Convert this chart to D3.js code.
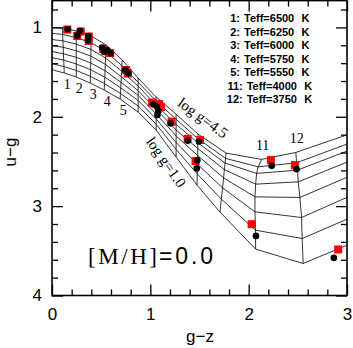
<!DOCTYPE html>
<html lang="en">
<head>
<meta charset="UTF-8" />
<title>u-g vs g-z</title>
<style>
  body { margin: 0; background: #fff; }
  svg { display: block; }
  .tick text { font-family: "Liberation Sans", Arial, sans-serif; font-size: 17px; fill: #000; }
  .tick line { stroke: #000; stroke-width: 1.3; }
</style>
</head>
<body>
<svg id="chart" width="353" height="348"></svg>
<script src="https://cdn.jsdelivr.net/npm/d3@7/dist/d3.min.js"></script>
<script>
// model grid: one entry per Teff column, values from log g = 4.5 down to 1.0
const teffs = [6750, 6500, 6250, 6000, 5750, 5500, 5250, 5000, 4750, 4500, 4250, 4000, 3750, 3500];
const loggs = [4.5, 4.0, 3.5, 3.0, 2.5, 2.0, 1.5, 1.0];
const gridGz = [
  [-0.058, -0.058, -0.058, -0.058, -0.058, -0.058, -0.058, -0.058],
  [0.105, 0.108, 0.111, 0.114, 0.116, 0.119, 0.122, 0.125],
  [0.247, 0.247, 0.247, 0.247, 0.247, 0.247, 0.247, 0.247],
  [0.399, 0.398, 0.396, 0.395, 0.394, 0.392, 0.391, 0.389],
  [0.551, 0.548, 0.545, 0.542, 0.540, 0.537, 0.534, 0.531],
  [0.714, 0.711, 0.708, 0.705, 0.702, 0.699, 0.696, 0.693],
  [0.876, 0.876, 0.876, 0.876, 0.876, 0.876, 0.876, 0.876],
  [1.059, 1.059, 1.059, 1.059, 1.059, 1.059, 1.059, 1.059],
  [1.262, 1.262, 1.262, 1.262, 1.262, 1.262, 1.262, 1.262],
  [1.485, 1.484, 1.483, 1.482, 1.481, 1.479, 1.477, 1.475],
  [1.770, 1.765, 1.760, 1.753, 1.745, 1.735, 1.722, 1.709],
  [2.132, 2.097, 2.081, 2.071, 2.064, 2.064, 2.069, 2.071],
  [2.480, 2.487, 2.497, 2.504, 2.521, 2.538, 2.544, 2.554],
  [3.049, 3.049, 3.049, 3.049, 3.049, 3.049, 3.049, 3.049]
];
const gridUg = [
  [0.996, 1.062, 1.127, 1.193, 1.258, 1.324, 1.389, 1.455],
  [1.007, 1.078, 1.151, 1.223, 1.295, 1.366, 1.439, 1.511],
  [1.040, 1.114, 1.187, 1.261, 1.335, 1.409, 1.482, 1.555],
  [1.096, 1.171, 1.246, 1.321, 1.398, 1.473, 1.548, 1.623],
  [1.197, 1.269, 1.342, 1.413, 1.485, 1.557, 1.629, 1.701],
  [1.365, 1.428, 1.489, 1.552, 1.615, 1.677, 1.739, 1.802],
  [1.567, 1.613, 1.658, 1.708, 1.760, 1.817, 1.879, 1.947],
  [1.779, 1.824, 1.868, 1.916, 1.968, 2.024, 2.083, 2.149],
  [1.970, 2.028, 2.085, 2.148, 2.215, 2.288, 2.365, 2.451],
  [2.194, 2.245, 2.291, 2.354, 2.433, 2.531, 2.639, 2.765],
  [2.406, 2.466, 2.518, 2.591, 2.684, 2.796, 2.922, 3.067],
  [2.477, 2.560, 2.634, 2.754, 2.896, 3.064, 3.269, 3.481],
  [2.399, 2.515, 2.597, 2.728, 2.903, 3.127, 3.362, 3.642],
  [2.184, 2.285, 2.363, 2.486, 2.654, 2.878, 3.123, 3.414]
];

// stars: red squares and black dots
const sqGz = [0.155, 0.257, 0.292, 0.374, 0.374, 0.521, 0.592, 0.754, 0.770, 1.018, 1.089, 1.109, 1.216, 1.379, 1.506, 1.460, 2.226, 2.470, 2.030, 2.910];
const sqUg = [1.024, 1.096, 1.046, 1.102, 1.152, 1.242, 1.287, 1.477, 1.516, 1.841, 1.858, 1.891, 2.054, 2.246, 2.261, 2.496, 2.485, 2.541, 3.202, 3.485];
const dotGz = [0.160, 0.257, 0.285, 0.369, 0.365, 0.511, 0.531, 0.561, 0.597, 0.746, 0.777, 1.031, 1.066, 1.082, 1.072, 1.206, 1.381, 1.495, 1.478, 1.472, 2.234, 2.487, 2.074, 2.866];
const dotUg = [1.021, 1.091, 1.037, 1.096, 1.147, 1.225, 1.275, 1.253, 1.290, 1.474, 1.514, 1.863, 1.888, 1.936, 1.981, 2.074, 2.267, 2.277, 2.488, 2.578, 2.549, 2.586, 3.333, 3.579];

// legend
const legendNum = [1, 2, 3, 4, 5, 11, 12];
const legendTeff = [6500, 6250, 6000, 5750, 5550, 4000, 3750];

const xTicks = [0, 1, 2, 3];
const yTicks = [1, 2, 3, 4];

const svg = d3.select("#chart");
const x = d3.scaleLinear().domain([0, 3]).range([52, 347]);
const y = d3.scaleLinear().domain([0.7, 4]).range([0.6, 295.5]);

const minorX = d3.range(1, 15).map((i) => i * 0.2).filter((v) => Math.abs(v - Math.round(v)) > 1e-6);
const minorY = d3.range(4, 20).map((i) => i * 0.2).filter((v) => Math.abs(v - Math.round(v)) > 1e-6);

svg.append("defs").append("clipPath").attr("id", "plot")
  .append("rect")
  .attr("x", x(0)).attr("y", y(0.7))
  .attr("width", x(3) - x(0)).attr("height", y(4) - y(0.7));

// grid lines
let gridG = svg.append("g").attr("clip-path", "url(#plot)")
  .attr("fill", "none").attr("stroke", "#000").attr("stroke-width", 0.8);
let line = d3.line().x((d) => x(d[0])).y((d) => y(d[1]));

teffs.forEach((t, i) => {
  let pts = loggs.map((g, j) => [gridGz[i][j], gridUg[i][j]]);
  gridG.append("path").attr("d", line(pts));
});
loggs.forEach((g, j) => {
  let pts = teffs.map((t, i) => [gridGz[i][j], gridUg[i][j]]);
  gridG.append("path").attr("d", line(pts));
});

// stars
svg.append("g").selectAll("rect").data(sqGz).join("rect")
  .attr("x", (d) => x(d) - 4)
  .attr("y", (d, i) => y(sqUg[i]) - 4)
  .attr("width", 8).attr("height", 8)
  .attr("fill", "#ff0000");
svg.append("g").selectAll("circle").data(dotGz).join("circle")
  .attr("cx", (d) => x(d))
  .attr("cy", (d, i) => y(dotUg[i]))
  .attr("r", 3.3)
  .attr("fill", "#000");

// axes, ticks pointing inwards on all four sides
function clean(g) { g.select(".domain").remove(); }
svg.append("g").attr("transform", `translate(0,${y(4)})`)
  .call(d3.axisBottom(x).tickValues(xTicks).tickSize(-11).tickPadding(12).tickFormat(d3.format("d"))).call(clean);
svg.append("g").attr("transform", `translate(0,${y(4)})`)
  .call(d3.axisBottom(x).tickValues(minorX).tickSize(-6).tickFormat("")).call(clean);
svg.append("g").attr("transform", `translate(0,${y(0.7)})`)
  .call(d3.axisTop(x).tickValues(xTicks).tickSize(-11).tickFormat("")).call(clean);
svg.append("g").attr("transform", `translate(0,${y(0.7)})`)
  .call(d3.axisTop(x).tickValues(minorX).tickSize(-6).tickFormat("")).call(clean);
svg.append("g").attr("transform", `translate(${x(0)},0)`)
  .call(d3.axisLeft(y).tickValues(yTicks).tickSize(-11).tickPadding(10).tickFormat(d3.format("d"))).call(clean);
svg.append("g").attr("transform", `translate(${x(0)},0)`)
  .call(d3.axisLeft(y).tickValues(minorY).tickSize(-6).tickFormat("")).call(clean);
svg.append("g").attr("transform", `translate(${x(3)},0)`)
  .call(d3.axisRight(y).tickValues(yTicks).tickSize(-11).tickFormat("")).call(clean);
svg.append("g").attr("transform", `translate(${x(3)},0)`)
  .call(d3.axisRight(y).tickValues(minorY).tickSize(-6).tickFormat("")).call(clean);

svg.append("rect")
  .attr("x", x(0)).attr("y", y(0.7))
  .attr("width", x(3) - x(0)).attr("height", y(4) - y(0.7))
  .attr("fill", "none").attr("stroke", "#000").attr("stroke-width", 1.6);

// axis titles
svg.append("text").text("g\u2212z")
  .attr("x", 200).attr("y", 342)
  .attr("text-anchor", "middle")
  .style("font-family", "Liberation Sans, Arial, sans-serif").style("font-size", "17px");
svg.append("text").text("u\u2212g")
  .attr("transform", "translate(16,152) rotate(-90)")
  .attr("text-anchor", "middle")
  .style("font-family", "Liberation Sans, Arial, sans-serif").style("font-size", "17px");

// legend
let leg = svg.append("g").style("font-family", "Liberation Sans, Arial, sans-serif")
  .style("font-size", "11px").style("font-weight", "bold");
legendNum.forEach((n, i) => {
  let by = 22 + i * 13.5;
  let s = n >= 10 ? 2.7 : 0;
  leg.append("text").text(n + ":").attr("x", 240 + s).attr("y", by).attr("text-anchor", "end");
  leg.append("text").text("Teff=" + legendTeff[i]).attr("x", 244 + s).attr("y", by);
  leg.append("text").text("K").attr("x", 301.5 + s).attr("y", by);
});

// column number labels
let lab = svg.append("g").style("font-family", "Liberation Serif, Times New Roman, serif")
  .style("font-size", "14px").attr("text-anchor", "middle");
[1, 2, 3, 4, 5].forEach((n) => {
  lab.append("text").text(n)
    .attr("x", x(gridGz[n][7]) + 3)
    .attr("y", y(gridUg[n][7]) + 16);
});
[11, 12].forEach((n) => {
  lab.append("text").text(n)
    .attr("x", x(gridGz[n][0]) + 1)
    .attr("y", y(gridUg[n][0]) - 9);
});

// log g labels
let lg = svg.append("g").style("font-family", "Liberation Serif, Times New Roman, serif")
  .style("font-size", "15px").style("white-space", "pre").attr("text-anchor", "middle");
lg.append("text").text("log  g=4.5").attr("transform", "translate(200,122) rotate(36)");
lg.append("text").text("log  g=1.0").attr("transform", "translate(162,165) rotate(55)");

// metallicity
svg.append("text").text("[M/H]")
  .attr("x", 88).attr("y", 264)
  .attr("textLength", 69).attr("lengthAdjust", "spacing")
  .style("font-family", "Liberation Serif, Times New Roman, serif").style("font-size", "23px");
svg.append("text").text("=0.0")
  .attr("x", 159).attr("y", 264)
  .attr("textLength", 54).attr("lengthAdjust", "spacing")
  .style("font-family", "Liberation Sans, Arial, sans-serif").style("font-size", "23px");
</script>
</body>
</html>
